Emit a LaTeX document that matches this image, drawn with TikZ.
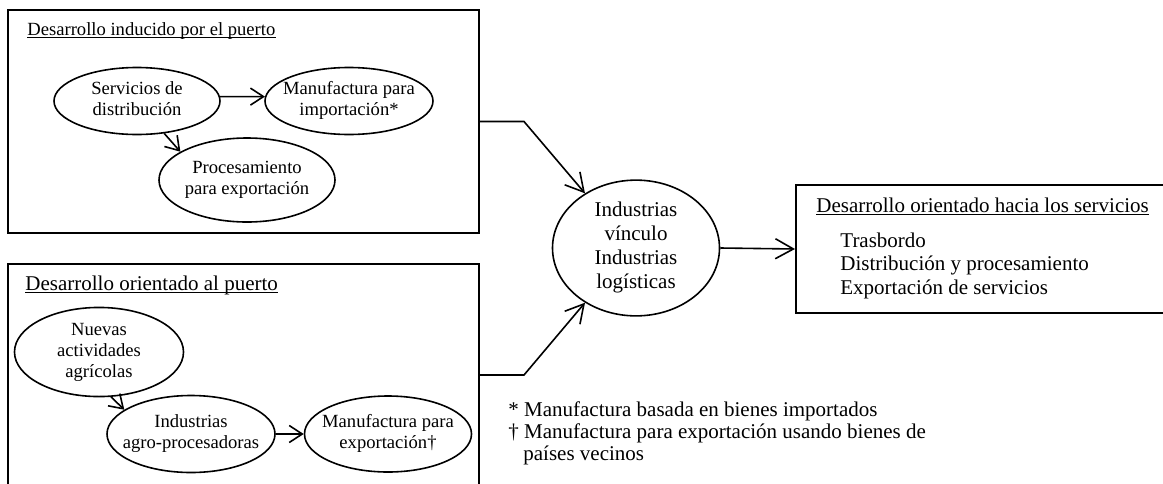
\documentclass[tikz,border=0pt]{standalone}
\usepackage{fontspec}
\setmainfont{Liberation Serif}
\usetikzlibrary{shapes.geometric,arrows.meta}
\newcommand{\stagetext}[1]{\makebox[0pt]{\begin{tabular}{@{}c@{}}#1\end{tabular}}}
\tikzset{
    stage/.style={draw,ellipse,line width=0.8pt,inner sep=0pt,
        font=\fontsize{9.3}{10.5}\selectfont},
    area/.style={draw,line width=1pt,inner sep=0pt},
    heading/.style={anchor=base west,inner sep=0pt},
    flow/.style={-{Straight Barb[length=6.5pt,width=8.5pt]},line width=0.8pt},
    bigflow/.style={-{Straight Barb[length=9pt,width=10pt]},line width=0.8pt}
}
\begin{document}
\begin{tikzpicture}[x=0.5pt,y=-0.5pt,font=\fontsize{10.5}{12}\selectfont]
        \useasboundingbox (0,0) rectangle (1163,483);
        %boxes
        \node[area,minimum width=235.5pt,minimum height=111.5pt] (induced) at (243.5,121.5) {};
        \node[area,minimum width=235.5pt,minimum height=111pt] (oriented) at (243.5,375) {};
        \node[area,minimum width=192pt,minimum height=64pt] (services) at (988,249) {};
        %titles
        \node[heading,font=\fontsize{9.3}{10.5}\selectfont] (ttlinduced) at (27,35) {Desarrollo inducido por el puerto};
        \node[heading] (ttloriented) at (25,290) {Desarrollo orientado al puerto};
        \node[heading] (ttlservices) at (816,212) {Desarrollo orientado hacia los servicios};
        \foreach \t in {ttlinduced,ttloriented,ttlservices}
            \draw[line width=0.5pt] ([yshift=-1.3pt]\t.base west) -- ([yshift=-1.3pt]\t.base east);
        \foreach \item [count=\i] in {Trasbordo,Distribución y procesamiento,Exportación de servicios}
            \node[heading] (item\i) at (840,223.5+23.5*\i) {\item};
        %port induced
        \node[stage,minimum width=83pt,minimum height=33.5pt] (distrib) at (137,101)
            {\stagetext{Servicios de\\distribución}};
        \node[stage,minimum width=84pt,minimum height=33.5pt] (importmf) at (349,101)
            {\stagetext{Manufactura para\\importación*}};
        \node[stage,minimum width=88pt,minimum height=42pt] (procexp) at (247,180)
            {\stagetext{Procesamiento\\para exportación}};
        \draw[flow] (distrib.3) -- (importmf.177);
        \draw[flow] (distrib.-50) -- (procexp.157);
        %port oriented
        \node[stage,minimum width=84.5pt,minimum height=40pt] (agric) at (99,352)
            {\stagetext{Nuevas\\actividades\\agrícolas}};
        \node[stage,minimum width=84pt,minimum height=38.5pt] (agroind) at (191,434)
            {\stagetext{Industrias\\agro-procesadoras}};
        \node[stage,minimum width=83.5pt,minimum height=38pt] (exportmf) at (388,434)
            {\stagetext{Manufactura para\\exportación†}};
        \draw[flow] (agric.-75) -- (agroind.160);
        \draw[flow] (agroind.east) -- (exportmf.west);
        %linkage
        \node[stage,font=\fontsize{10.5}{12}\selectfont,minimum width=83.5pt,minimum height=63.5pt] (hub) at (636,248)
            {\stagetext{Industrias\\vínculo\\Industrias\\logísticas}};
        \draw[bigflow] (induced.east) -- ++(44,0) -- (hub.133);
        \draw[bigflow] (oriented.east) -- ++(44,0) -- (hub.-133);
        \draw[bigflow] (hub.east) -- (services.west);
        %notes
        \node[heading,font=\fontsize{10.5}{11}\selectfont] (notes) at (508,416)
            {\begin{tabular}[t]{@{}l@{}}* Manufactura basada en bienes importados\\
            † Manufactura para exportación usando bienes de\\
            \hspace*{7.5pt}países vecinos\end{tabular}};
\end{tikzpicture}
\end{document}
